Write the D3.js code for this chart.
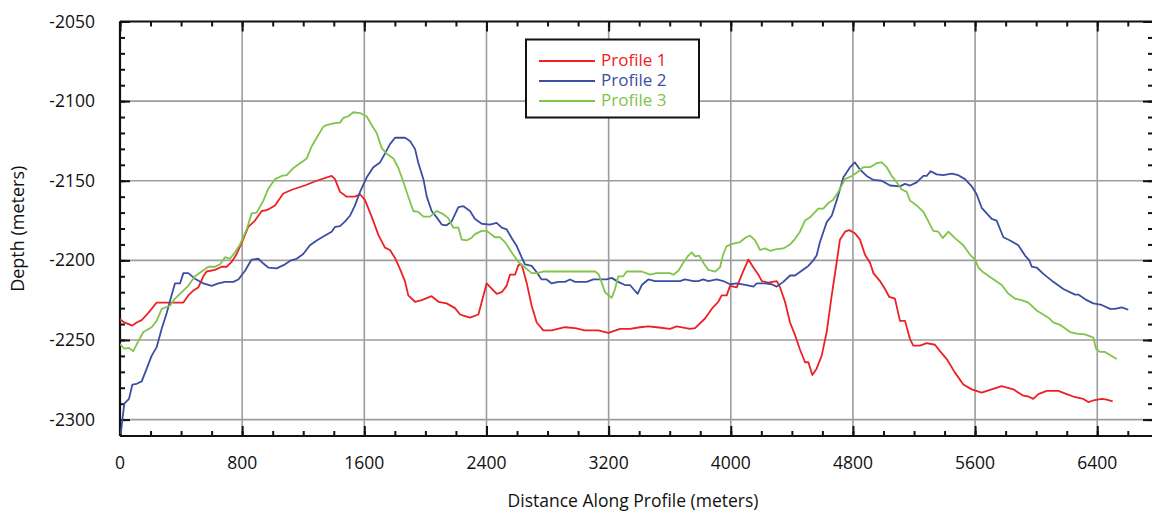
<!DOCTYPE html>
<html>
<head>
	<meta charset="utf-8">
	<title>Depth profiles</title>
	<script src="https://cdn.jsdelivr.net/npm/d3@7"></script>
	<style>
		body { margin: 0; background: #fff; }
		text { font-family: "Open Sans", sans-serif; }
	</style>
</head>
<body>
	<script type="text/javascript">

		// distance (m), depth (m)
		var profile1 = [[0,-2237],[28,-2239],[81,-2241],[109,-2239],[142,-2237.5],[186,-2233],[240,-2226.5],[415,-2226.5],[447,-2222],[480,-2219],[513,-2217],[546,-2210],[567,-2207],[622,-2206],[666,-2204],[698,-2204],[731,-2201],[764,-2196],[797,-2189],[840,-2179],[884,-2175],[928,-2169],[961,-2168.5],[1015,-2165.5],[1069,-2158],[1130,-2155.5],[1210,-2153],[1288,-2150],[1386,-2147],[1408,-2149],[1441,-2157],[1485,-2160],[1539,-2160],[1572,-2158.5],[1604,-2162],[1648,-2172.5],[1692,-2184],[1735,-2192],[1768,-2193.5],[1801,-2198.5],[1834,-2205.5],[1866,-2213],[1888,-2222],[1932,-2226],[1976,-2225],[2041,-2222.5],[2085,-2226],[2139,-2227],[2194,-2230],[2227,-2234],[2259,-2235],[2292,-2236],[2347,-2234],[2401,-2214.5],[2467,-2221],[2500,-2220],[2532,-2216],[2554,-2209],[2587,-2209],[2609,-2203],[2630,-2202.5],[2663,-2214],[2696,-2228.5],[2729,-2239],[2772,-2244],[2827,-2244],[2914,-2242],[2980,-2242.5],[3045,-2244],[3133,-2244],[3198,-2245.5],[3275,-2243],[3340,-2243],[3405,-2242],[3460,-2241.5],[3515,-2242],[3602,-2243],[3646,-2241.5],[3733,-2243],[3766,-2242.5],[3831,-2236.5],[3875,-2230.5],[3918,-2226],[3940,-2222],[3973,-2222],[3995,-2216],[4039,-2217],[4072,-2209],[4115,-2199.5],[4148,-2204.5],[4181,-2209],[4203,-2213],[4246,-2214],[4301,-2213],[4323,-2217],[4355,-2226],[4388,-2239],[4421,-2247],[4453,-2256],[4486,-2264],[4508,-2264],[4534,-2272],[4562,-2268],[4595,-2260],[4628,-2245],[4661,-2222],[4693,-2201.5],[4715,-2187],[4748,-2182],[4776,-2181],[4813,-2183],[4846,-2187],[4879,-2196.5],[4912,-2201.5],[4934,-2208],[4977,-2213],[5010,-2218],[5038,-2223],[5075,-2224],[5108,-2238],[5141,-2238],[5174,-2249.5],[5195,-2253.5],[5239,-2253.5],[5283,-2252],[5337,-2253],[5370,-2257],[5414,-2262],[5468,-2270.5],[5523,-2278],[5578,-2281],[5643,-2283],[5774,-2279],[5850,-2281],[5916,-2285],[5949,-2285.5],[5981,-2287],[6014,-2284],[6069,-2282],[6145,-2282],[6200,-2284],[6243,-2285.5],[6309,-2287],[6341,-2289],[6374,-2288],[6429,-2287],[6462,-2287.5],[6501,-2288.5]];

		var profile2 = [[5,-2309],[28,-2290],[59,-2287],[81,-2278],[109,-2277.5],[142,-2276],[175,-2268],[207,-2260],[240,-2254.5],[273,-2243],[306,-2233],[339,-2221.5],[360,-2214.5],[393,-2214.5],[415,-2208],[447,-2208],[491,-2211.5],[546,-2214.5],[600,-2216],[644,-2214.5],[688,-2213.5],[742,-2213.5],[775,-2212],[819,-2206.5],[862,-2199.5],[906,-2199],[939,-2202],[971,-2204.5],[1026,-2205],[1081,-2202.5],[1120,-2200],[1157,-2199],[1200,-2196],[1244,-2190.5],[1288,-2187.5],[1332,-2185],[1386,-2182],[1408,-2179],[1441,-2178.5],[1474,-2175.5],[1506,-2172],[1539,-2165.5],[1572,-2157],[1615,-2148],[1659,-2141.5],[1703,-2138.5],[1735,-2133],[1768,-2127],[1801,-2123],[1866,-2123],[1899,-2125],[1932,-2130],[1953,-2138.5],[1987,-2149],[2009,-2160],[2041,-2169],[2074,-2173],[2107,-2177.5],[2139,-2178],[2172,-2175.5],[2216,-2166.5],[2249,-2166],[2292,-2169],[2325,-2174],[2369,-2177],[2423,-2177.5],[2467,-2176.5],[2500,-2179.5],[2532,-2180.5],[2565,-2186],[2598,-2191],[2630,-2198],[2652,-2202.5],[2696,-2203.5],[2729,-2207.5],[2761,-2212],[2794,-2212],[2827,-2214.5],[2870,-2213.5],[2914,-2213.5],[2947,-2212],[2980,-2213.5],[3056,-2213.5],[3100,-2212],[3187,-2212],[3220,-2211],[3263,-2213.5],[3307,-2215.5],[3340,-2215.5],[3362,-2218],[3390,-2221],[3417,-2215.5],[3460,-2212],[3504,-2213],[3667,-2213],[3700,-2212],[3755,-2213],[3787,-2213],[3820,-2212],[3853,-2213],[3908,-2212],[3951,-2213],[3995,-2215],[4039,-2214.5],[4104,-2215.5],[4148,-2216.5],[4170,-2214.5],[4224,-2214.5],[4268,-2215],[4301,-2216.5],[4344,-2213.5],[4388,-2209.5],[4421,-2209.5],[4464,-2206.5],[4508,-2203.5],[4540,-2200],[4562,-2197],[4584,-2188.5],[4628,-2176],[4661,-2172],[4693,-2162.5],[4737,-2148],[4781,-2141.5],[4813,-2138.5],[4846,-2143],[4890,-2147],[4934,-2149.5],[4988,-2150],[5043,-2153],[5108,-2153.5],[5141,-2152],[5174,-2153],[5217,-2151],[5261,-2147],[5283,-2147],[5309,-2144],[5348,-2146],[5392,-2146.5],[5447,-2145.5],[5490,-2146.5],[5534,-2149],[5578,-2153.5],[5610,-2158.5],[5643,-2167],[5709,-2174],[5741,-2175],[5785,-2185.5],[5829,-2187.5],[5883,-2190.5],[5927,-2197],[5955,-2200],[5971,-2204],[6003,-2204.5],[6047,-2208.5],[6112,-2213.5],[6178,-2218],[6254,-2221.5],[6276,-2221.5],[6331,-2225],[6374,-2227],[6429,-2228],[6484,-2230.5],[6516,-2230.5],[6560,-2229.5],[6603,-2231]];

		var profile3 = [[0,-2252.5],[28,-2255.5],[59,-2255],[87,-2257],[116,-2251.5],[153,-2245],[207,-2242],[240,-2238],[273,-2230.5],[327,-2228.5],[360,-2224],[404,-2220],[447,-2216],[491,-2210],[535,-2207],[578,-2204],[622,-2204],[655,-2202.5],[688,-2198],[720,-2199],[753,-2195],[786,-2190],[830,-2180.5],[862,-2170.5],[895,-2170],[939,-2162.5],[971,-2155],[1015,-2149],[1059,-2147],[1092,-2146.5],[1130,-2142.5],[1179,-2139],[1223,-2136],[1255,-2128.5],[1288,-2123],[1332,-2116],[1354,-2115],[1397,-2114],[1441,-2113.5],[1463,-2110.5],[1495,-2109.5],[1528,-2107],[1572,-2107.5],[1615,-2109.5],[1648,-2115],[1681,-2120],[1714,-2129.5],[1746,-2133],[1790,-2136],[1823,-2142],[1855,-2150.5],[1888,-2160],[1921,-2169],[1953,-2169.5],[1987,-2172.5],[2030,-2172.5],[2074,-2169],[2117,-2171],[2150,-2173.5],[2183,-2179.5],[2216,-2179.5],[2238,-2187],[2270,-2187.5],[2300,-2186],[2325,-2183.5],[2369,-2181.5],[2401,-2181.5],[2456,-2185.5],[2489,-2185.5],[2521,-2188.5],[2565,-2195],[2609,-2201],[2652,-2204.5],[2696,-2208],[2729,-2208],[2772,-2207],[3111,-2207],[3133,-2208.5],[3155,-2214],[3176,-2220],[3220,-2223.5],[3242,-2218],[3263,-2210],[3296,-2210],[3318,-2207],[3417,-2207],[3471,-2209],[3515,-2208],[3602,-2208],[3624,-2209],[3657,-2206.5],[3689,-2201.5],[3722,-2197],[3744,-2195],[3766,-2197.5],[3794,-2197],[3820,-2201.5],[3853,-2206],[3897,-2207],[3929,-2204.5],[3951,-2196],[3973,-2191],[4017,-2189.5],[4060,-2188.5],[4100,-2185.5],[4126,-2184.5],[4159,-2187.5],[4192,-2193.5],[4224,-2192.5],[4257,-2194],[4301,-2193],[4344,-2192.5],[4388,-2190],[4421,-2186.5],[4453,-2182],[4486,-2175],[4519,-2173],[4573,-2167.5],[4606,-2167.5],[4639,-2164],[4671,-2162],[4704,-2157],[4748,-2149],[4792,-2147],[4824,-2145],[4868,-2141.5],[4912,-2141.5],[4955,-2139],[4988,-2138.5],[5021,-2141.5],[5054,-2147],[5087,-2151],[5119,-2155.5],[5152,-2157],[5174,-2162.5],[5217,-2165.5],[5261,-2169.5],[5294,-2175.5],[5326,-2181.5],[5359,-2182],[5388,-2186],[5425,-2182],[5468,-2186],[5523,-2190.5],[5567,-2196.5],[5600,-2199.5],[5621,-2204.5],[5654,-2207.5],[5698,-2210.5],[5774,-2215.5],[5818,-2221],[5861,-2224],[5905,-2225],[5949,-2226.5],[6003,-2231.5],[6080,-2236],[6112,-2239],[6156,-2240.5],[6222,-2245],[6265,-2246],[6320,-2246.5],[6374,-2248.5],[6392,-2255.5],[6418,-2257.5],[6451,-2257.5],[6527,-2262]];

		var seriesNames = ["Profile 1", "Profile 2", "Profile 3"];
		var seriesColors = ["#ed2024", "#3b4ea3", "#80c44b"];
		var xTicks = [0, 800, 1600, 2400, 3200, 4000, 4800, 5600, 6400];
		var yTicks = [-2300, -2250, -2200, -2150, -2100, -2050];

		var width = 1152;
		var height = 514;
		var padL = 120, padR = 1153, padT = 21.5, padB = 436;

		var x = d3.scaleLinear().domain([0, 6765]).range([padL, padR]);
		var y = d3.scaleLinear().domain([-2310.3, -2050]).range([padB, padT]);

		var svg = d3.select("body").append("svg")
			.attr("width", width)
			.attr("height", height);

		// grid
		svg.append("g").selectAll("line")
			.data(xTicks.slice(1))
			.enter().append("line")
			.attr("x1", function (d) { return x(d); })
			.attr("x2", function (d) { return x(d); })
			.attr("y1", padT).attr("y2", padB)
			.attr("stroke", "#9d9d9d").attr("stroke-width", 1.6);

		svg.append("g").selectAll("line")
			.data(yTicks.slice(0, -1))
			.enter().append("line")
			.attr("x1", padL).attr("x2", padR)
			.attr("y1", function (d) { return y(d); })
			.attr("y2", function (d) { return y(d); })
			.attr("stroke", "#9d9d9d").attr("stroke-width", 1.6);

		// minor + major ticks, all pointing inward
		var minorX = d3.range(0, 6766, 200);
		var minorY = d3.range(-2310, -2049, 10);

		function tickAxis(axisFn, scale, minor, major, tx, ty) {
			var g1 = svg.append("g").attr("transform", "translate(" + tx + "," + ty + ")")
				.call(axisFn(scale).tickValues(minor).tickSize(5).tickFormat(""));
			var g2 = svg.append("g").attr("transform", "translate(" + tx + "," + ty + ")")
				.call(axisFn(scale).tickValues(major).tickSize(10).tickFormat(""));
			[g1, g2].forEach(function (g) {
				g.selectAll("line").attr("stroke", "#111").attr("stroke-width", 2);
				g.select(".domain").remove();
			});
		}
		// axisTop at the bottom edge => ticks point up (inward)
		tickAxis(d3.axisTop, x, minorX, xTicks, 0, padB);
		tickAxis(d3.axisBottom, x, minorX, xTicks, 0, padT);
		tickAxis(d3.axisRight, y, minorY, yTicks, padL, 0);
		tickAxis(d3.axisLeft, y, minorY, yTicks, padR, 0);

		// frame lines
		svg.append("line").attr("x1", padL).attr("x2", padR).attr("y1", padB).attr("y2", padB)
			.attr("stroke", "#111").attr("stroke-width", 2.2);
		svg.append("line").attr("x1", padL).attr("x2", padR).attr("y1", padT).attr("y2", padT)
			.attr("stroke", "#111").attr("stroke-width", 2.2);
		svg.append("line").attr("x1", padL).attr("x2", padL).attr("y1", padT).attr("y2", padB)
			.attr("stroke", "#111").attr("stroke-width", 2.2);

		// tick labels
		svg.append("g").selectAll("text")
			.data(xTicks)
			.enter().append("text")
			.attr("x", function (d) { return x(d); })
			.attr("y", 469)
			.attr("text-anchor", "middle")
			.attr("font-size", 17.5)
			.attr("fill", "#111")
			.text(function (d) { return d; });

		svg.append("g").selectAll("text")
			.data(yTicks)
			.enter().append("text")
			.attr("x", 95)
			.attr("y", function (d) { return y(d) + 6; })
			.attr("text-anchor", "end")
			.attr("font-size", 17.5)
			.attr("fill", "#111")
			.text(function (d) { return d; });

		// axis titles
		svg.append("text")
			.attr("x", 633).attr("y", 507)
			.attr("text-anchor", "middle")
			.attr("font-size", 17.5)
			.attr("fill", "#111")
			.text("Distance Along Profile (meters)");

		svg.append("text")
			.attr("transform", "translate(24," + ((padT + padB) / 2) + ") rotate(-90)")
			.attr("text-anchor", "middle")
			.attr("font-size", 18)
			.attr("fill", "#111")
			.text("Depth (meters)");

		// lines
		var line = d3.line()
			.x(function (d) { return x(d[0]); })
			.y(function (d) { return y(d[1]); });

		svg.append("defs").append("clipPath").attr("id", "plot")
			.append("rect").attr("x", padL).attr("y", padT)
			.attr("width", padR - padL).attr("height", padB - padT);

		svg.append("g").attr("clip-path", "url(#plot)")
			.selectAll("path")
			.data([profile1, profile2, profile3])
			.enter().append("path")
			.attr("d", line)
			.attr("fill", "none")
			.attr("stroke", function (d, i) { return seriesColors[i]; })
			.attr("stroke-width", 1.8)
			.attr("stroke-linejoin", "round");

		// legend
		var legend = svg.append("g");
		legend.append("rect")
			.attr("x", 526).attr("y", 39.5)
			.attr("width", 173).attr("height", 78)
			.attr("fill", "#fff").attr("stroke", "#111").attr("stroke-width", 2);

		var items = legend.selectAll("g")
			.data(seriesNames)
			.enter().append("g")
			.attr("transform", function (d, i) { return "translate(0," + (61 + i * 20) + ")"; });
		items.append("line")
			.attr("x1", 539).attr("x2", 595)
			.attr("stroke", function (d, i) { return seriesColors[i]; })
			.attr("stroke-width", 1.8);
		items.append("text")
			.attr("x", 601).attr("y", 4.5)
			.attr("font-size", 17)
			.attr("fill", function (d, i) { return seriesColors[i]; })
			.text(function (d) { return d; });

	</script>
</body>
</html>
